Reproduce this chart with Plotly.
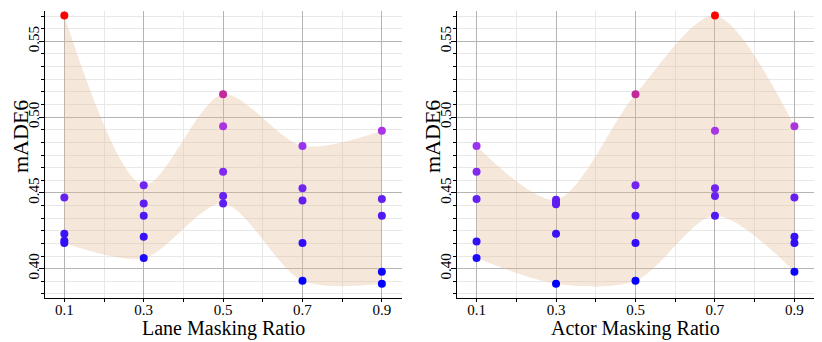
import plotly.graph_objects as go

# ---- data ----
ratios = [0.1, 0.3, 0.5, 0.7, 0.9]
tick_labels = ["0.1", "0.3", "0.5", "0.7", "0.9"]

lane_made6 = [
    [0.567, 0.447, 0.423, 0.4185, 0.417],
    [0.455, 0.443, 0.435, 0.421, 0.407],
    [0.515, 0.494, 0.464, 0.448, 0.443],
    [0.481, 0.453, 0.445, 0.417, 0.392],
    [0.491, 0.446, 0.435, 0.398, 0.390],
]
actor_made6 = [
    [0.481, 0.464, 0.446, 0.418, 0.407],
    [0.4455, 0.444, 0.4425, 0.423, 0.390],
    [0.515, 0.455, 0.435, 0.417, 0.392],
    [0.567, 0.491, 0.453, 0.448, 0.435],
    [0.494, 0.447, 0.421, 0.417, 0.398],
]
y_ticks = [0.40, 0.45, 0.50, 0.55]

FONT = "Liberation Serif"
colorscale = [
    [0.0, "rgb(0,0,255)"],
    [0.3, "rgb(95,30,240)"],
    [0.55, "rgb(165,55,240)"],
    [0.72, "rgb(195,40,150)"],
    [1.0, "rgb(255,0,0)"],
]
cmin, cmax = 0.39, 0.567

fig = go.Figure()

panels = [(lane_made6, "x", "y"), (actor_made6, "x2", "y2")]
for data, xa, ya in panels:
    upper = [max(v) for v in data]
    lower = [min(v) for v in data]
    fig.add_trace(go.Scatter(x=ratios, y=upper, mode="lines",
                             line=dict(width=0, shape="spline", smoothing=0.85),
                             hoverinfo="skip", showlegend=False, xaxis=xa, yaxis=ya))
    fig.add_trace(go.Scatter(x=ratios, y=lower, mode="lines",
                             line=dict(width=0, shape="spline", smoothing=0.85),
                             fill="tonexty", fillcolor="rgba(228,186,152,0.35)",
                             hoverinfo="skip", showlegend=False, xaxis=xa, yaxis=ya))
    xs, ys = [], []
    for r, vals in zip(ratios, data):
        for v in vals:
            xs.append(r)
            ys.append(v)
    fig.add_trace(go.Scatter(x=xs, y=ys, mode="markers",
                             marker=dict(size=8, color=ys, colorscale=colorscale,
                                         cmin=cmin, cmax=cmax, line=dict(width=0)),
                             showlegend=False, xaxis=xa, yaxis=ya))

xcommon = dict(range=[0.05, 0.95], tickvals=ratios, ticktext=tick_labels,
               showgrid=True, gridcolor="rgb(180,180,180)", gridwidth=1,
               showline=True, linecolor="black", linewidth=1,
               ticks="outside", ticklen=3, tickcolor="black",
               ticklabelstandoff=-5,
               minor=dict(dtick=0.1, tick0=0, showgrid=True, gridcolor="rgb(232,232,232)",
                          ticks="outside", ticklen=3, tickcolor="black"),
               tickfont=dict(family=FONT, size=15, color="black"),
               zeroline=False)
ycommon = dict(range=[0.381, 0.570], tickvals=y_ticks, tickformat=".2f",
               tickangle=-90,
               showgrid=True, gridcolor="rgb(180,180,180)", gridwidth=1,
               showline=True, linecolor="black", linewidth=1,
               ticks="outside", ticklen=5, tickcolor="black",
               ticklabelstandoff=-6,
               minor=dict(dtick=0.05 / 6, tick0=0.4, showgrid=True,
                          gridcolor="rgb(232,232,232)",
                          ticks="outside", ticklen=3, tickcolor="black"),
               tickfont=dict(family=FONT, size=15, color="black"),
               zeroline=False)

ydom = [44.5 / 342, 331 / 342]
fig.update_layout(
    width=822, height=342,
    margin=dict(l=0, r=0, t=0, b=0),
    paper_bgcolor="white", plot_bgcolor="white",
    xaxis=dict(xcommon, domain=[44.5 / 822, 401.7 / 822], anchor="y"),
    yaxis=dict(ycommon, domain=ydom, anchor="x"),
    xaxis2=dict(xcommon, domain=[456.7 / 822, 814.3 / 822], anchor="y2"),
    yaxis2=dict(ycommon, domain=ydom, anchor="x2"),
    font=dict(family=FONT, color="black"),
)

titles = [
    ("Lane Masking Ratio", 223 / 822, 1 - 328 / 342, 0),
    ("Actor Masking Ratio", 635.5 / 822, 1 - 328 / 342, 0),
    ("mADE6", 20 / 822, 1 - 137 / 342, -90),
    ("mADE6", 432 / 822, 1 - 137 / 342, -90),
]
for text, x, y, ang in titles:
    fig.add_annotation(text=text, x=x, y=y, xref="paper", yref="paper",
                       showarrow=False, textangle=ang,
                       font=dict(family=FONT, size=20 if ang == 0 else 22, color="black"),
                       xanchor="center", yanchor="middle")

fig.write_html("out.html", config={"displayModeBar": False},
               post_script="document.body.style.margin='0';document.body.style.overflow='hidden';")
